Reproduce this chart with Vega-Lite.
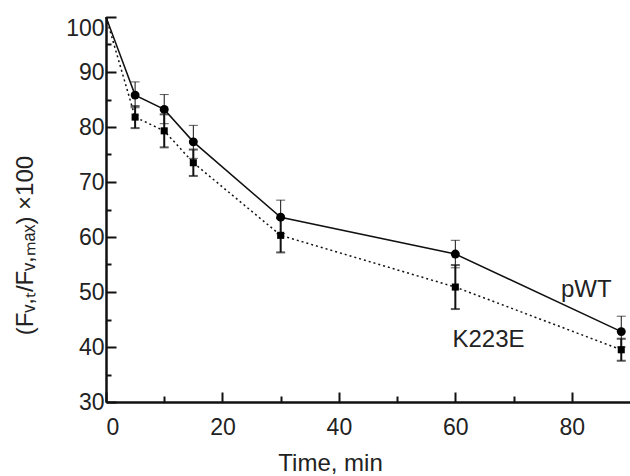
{
  "$schema": "https://vega.github.io/schema/vega-lite/v6.json",
  "width": 524,
  "height": 385,
  "autosize": "none",
  "padding": {"left": 106, "top": 17, "right": 0, "bottom": 74},
  "background": "white",
  "config": {
    "view": {"stroke": null},
    "font": "Liberation Sans",
    "axis": {
      "domainColor": "#111",
      "domainWidth": 2.5,
      "tickColor": "#111",
      "tickWidth": 2,
      "grid": false,
      "labelFont": "Liberation Sans",
      "labelFontSize": 23,
      "labelColor": "#222",
      "titleFont": "Liberation Sans",
      "titleFontSize": 24,
      "titleFontWeight": "normal",
      "titleColor": "#222"
    }
  },
  "data": {
    "values": [
      {"series": "pWT", "t": 0, "y": 100, "lo": 100, "hi": 100},
      {"series": "pWT", "t": 5, "y": 85.8, "lo": 83.5, "hi": 88.2},
      {"series": "pWT", "t": 10, "y": 83.2, "lo": 80.6, "hi": 85.9},
      {"series": "pWT", "t": 15, "y": 77.3, "lo": 74.3, "hi": 80.3},
      {"series": "pWT", "t": 30, "y": 63.6, "lo": 60.6, "hi": 66.7},
      {"series": "pWT", "t": 60, "y": 56.9, "lo": 54.4, "hi": 59.4},
      {"series": "pWT", "t": 88.5, "y": 42.8, "lo": 40.0, "hi": 45.6},
      {"series": "K223E", "t": 0, "y": 100, "lo": 100, "hi": 100},
      {"series": "K223E", "t": 5, "y": 81.8, "lo": 79.8, "hi": 83.8},
      {"series": "K223E", "t": 10, "y": 79.3, "lo": 76.3, "hi": 82.3},
      {"series": "K223E", "t": 15, "y": 73.5, "lo": 71.1, "hi": 75.9},
      {"series": "K223E", "t": 30, "y": 60.3, "lo": 57.2, "hi": 63.4},
      {"series": "K223E", "t": 60, "y": 50.9, "lo": 46.9, "hi": 54.9},
      {"series": "K223E", "t": 88.5, "y": 39.5, "lo": 37.5, "hi": 41.5}
    ]
  },
  "resolve": {"axis": {"x": "independent", "y": "independent"}},
  "layer": [
    {
      "transform": [{"filter": "datum.series === 'pWT'"}],
      "mark": {"type": "line", "color": "#111", "strokeWidth": 1.5},
      "encoding": {
        "x": {"field": "t", "type": "quantitative", "scale": {"domain": [0, 90], "nice": false},
          "axis": {"orient": "bottom", "values": [0, 20, 40, 60, 80], "tickSize": -10, "labelPadding": 24, "title": "Time, min", "titleX": 224, "titleY": 68, "titleBaseline": "alphabetic", "titleAlign": "center"}},
        "y": {"field": "y", "type": "quantitative", "scale": {"domain": [30, 100], "nice": false, "zero": false},
          "axis": {"orient": "left", "values": [30, 40, 50, 60, 70, 80, 90], "tickSize": -10, "labelPadding": 12, "title": "(Fᵥ,ₜ/Fᵥ,ₘₐₓ) ×100", "titleX": -81, "titleY": 228, "titleBaseline": "middle", "titleAlign": "center", "titleFontSize": 24}}
      }
    },
    {
      "transform": [{"filter": "datum.series === 'K223E'"}],
      "mark": {"type": "line", "color": "#111", "strokeWidth": 1.5, "strokeDash": [2, 3]},
      "encoding": {
        "x": {"field": "t", "type": "quantitative",
          "axis": {"orient": "bottom", "values": [10, 30, 50, 70], "tickSize": -6, "labels": false, "domain": false, "title": null}},
        "y": {"field": "y", "type": "quantitative",
          "axis": {"orient": "left", "values": [35, 45, 55, 65, 75, 85, 95], "tickSize": -5, "labels": false, "domain": false, "title": null}}
      }
    },
    {
      "transform": [{"filter": "datum.t > 0 && datum.series === 'pWT'"}],
      "mark": {"type": "rule", "color": "#111", "strokeWidth": 1},
      "encoding": {
        "x": {"field": "t", "type": "quantitative", "axis": null},
        "y": {"field": "lo", "type": "quantitative",
          "axis": {"orient": "left", "values": [100], "tickSize": -10, "labelPadding": 12, "labelFlush": true, "domain": false, "title": null}},
        "y2": {"field": "hi"}
      }
    },
    {
      "transform": [{"filter": "datum.t > 0 && datum.series === 'K223E'"}],
      "mark": {"type": "rule", "color": "#111", "strokeWidth": 2},
      "encoding": {
        "x": {"field": "t", "type": "quantitative", "axis": null},
        "y": {"field": "lo", "type": "quantitative", "axis": null},
        "y2": {"field": "hi"}
      }
    },
    {
      "transform": [{"filter": "datum.t > 0 && datum.series === 'pWT'"}],
      "layer": [
        {"mark": {"type": "tick", "orient": "horizontal", "color": "#111", "thickness": 1, "size": 9},
         "encoding": {"x": {"field": "t", "type": "quantitative", "axis": null}, "y": {"field": "lo", "type": "quantitative", "axis": null}}},
        {"mark": {"type": "tick", "orient": "horizontal", "color": "#111", "thickness": 1, "size": 9},
         "encoding": {"x": {"field": "t", "type": "quantitative", "axis": null}, "y": {"field": "hi", "type": "quantitative", "axis": null}}}
      ]
    },
    {
      "transform": [{"filter": "datum.t > 0 && datum.series === 'K223E'"}],
      "layer": [
        {"mark": {"type": "tick", "orient": "horizontal", "color": "#111", "thickness": 2, "size": 9},
         "encoding": {"x": {"field": "t", "type": "quantitative", "axis": null}, "y": {"field": "lo", "type": "quantitative", "axis": null}}},
        {"mark": {"type": "tick", "orient": "horizontal", "color": "#111", "thickness": 2, "size": 9},
         "encoding": {"x": {"field": "t", "type": "quantitative", "axis": null}, "y": {"field": "hi", "type": "quantitative", "axis": null}}}
      ]
    },
    {
      "transform": [{"filter": "datum.t > 0 && datum.series === 'pWT'"}],
      "mark": {"type": "point", "shape": "circle", "filled": true, "opacity": 1, "color": "#000", "size": 80},
      "encoding": {
        "x": {"field": "t", "type": "quantitative", "axis": null},
        "y": {"field": "y", "type": "quantitative", "axis": null}
      }
    },
    {
      "transform": [{"filter": "datum.t > 0 && datum.series === 'K223E'"}],
      "mark": {"type": "point", "shape": "square", "filled": true, "opacity": 1, "color": "#000", "size": 50},
      "encoding": {
        "x": {"field": "t", "type": "quantitative", "axis": null},
        "y": {"field": "y", "type": "quantitative", "axis": null}
      }
    },
    {
      "data": {"values": [{"label": "pWT", "lx": 82.5, "ly": 50.4}, {"label": "K223E", "lx": 65.7, "ly": 41.3}]},
      "mark": {"type": "text", "font": "Liberation Sans", "fontSize": 24, "color": "#222", "align": "center", "baseline": "middle"},
      "encoding": {
        "x": {"field": "lx", "type": "quantitative", "axis": null},
        "y": {"field": "ly", "type": "quantitative", "axis": null},
        "text": {"field": "label"}
      }
    }
  ]
}
